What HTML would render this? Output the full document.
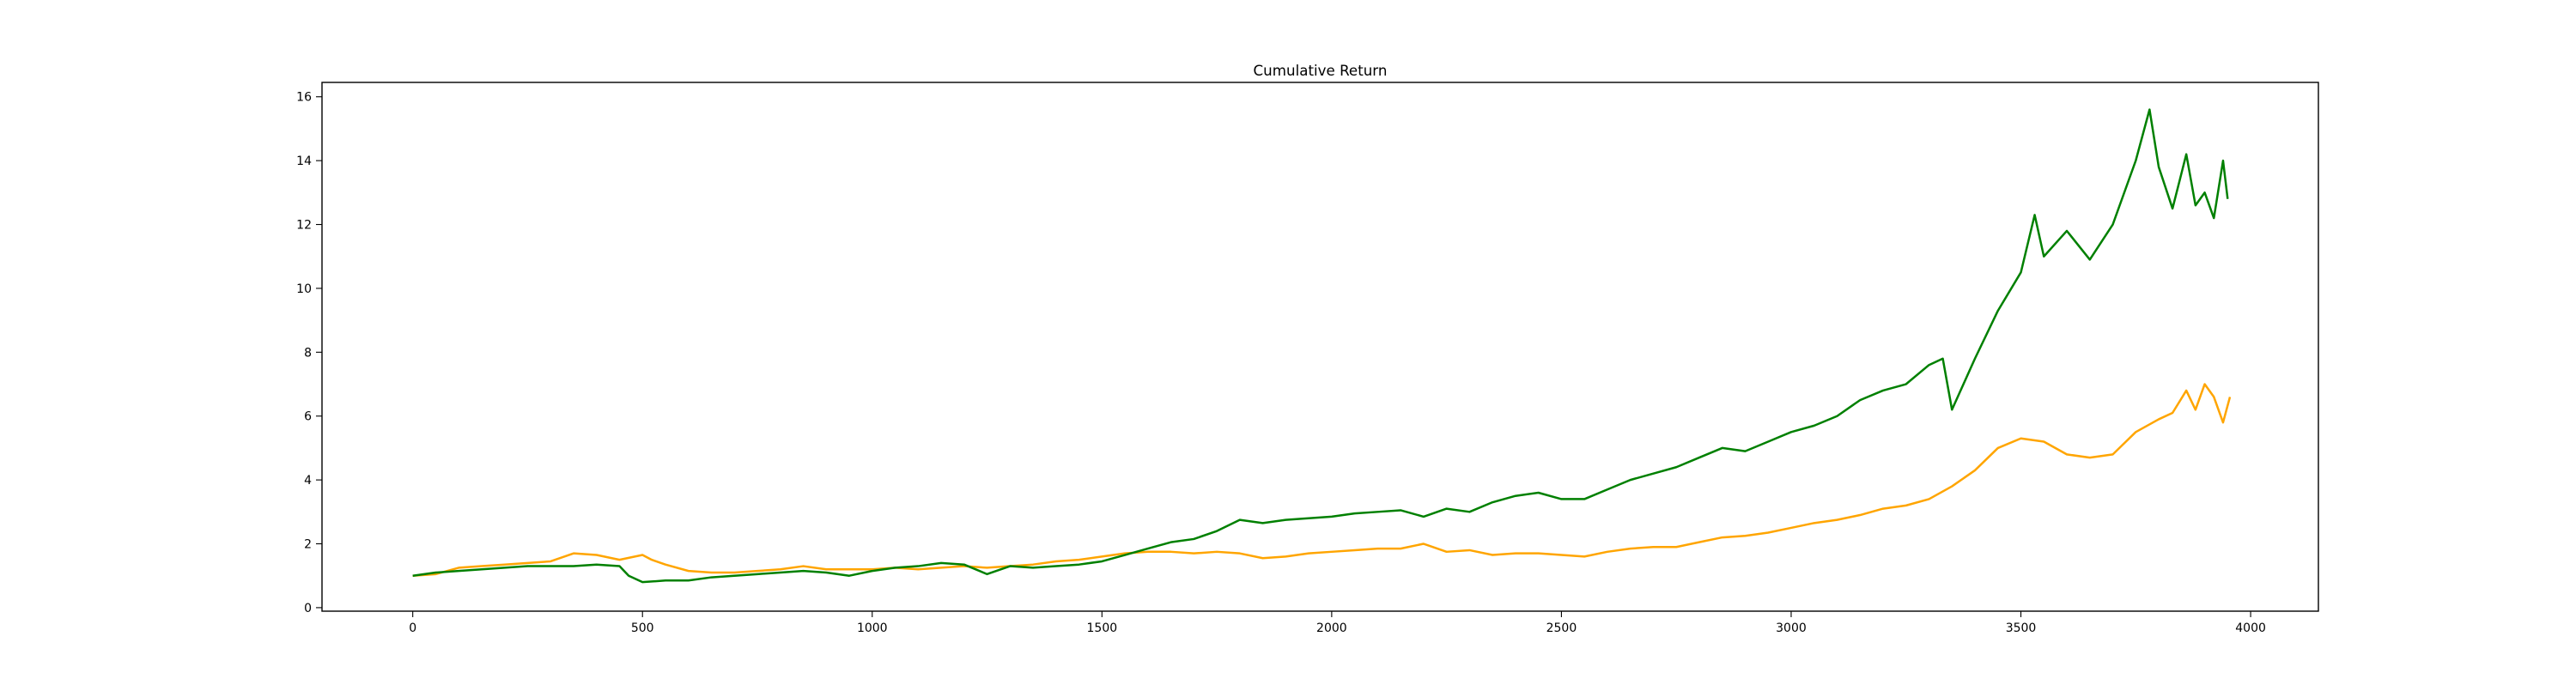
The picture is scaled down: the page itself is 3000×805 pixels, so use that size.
<!DOCTYPE html>
<html><head><meta charset="utf-8"><style>
html,body{margin:0;padding:0;background:#fff;}
svg text{font-family:"DejaVu Sans","Liberation Sans",sans-serif;font-size:14px;fill:#000;}
</style></head><body>
<svg id="chart" width="3000" height="800" xmlns="http://www.w3.org/2000/svg">
<rect width="3000" height="800" fill="#fff"/>
<text x="1537.5" y="88" text-anchor="middle" style="font-size:16.7px">Cumulative Return</text>
<g id="plot"></g>
<rect x="375" y="96" width="2325" height="616" fill="none" stroke="#000" stroke-width="1.4"/>
</svg>
<script>
const greenX=[0,50,100,150,200,250,300,350,400,450,470,500,550,600,650,700,750,800,850,900,950,1000,1050,1100,1150,1200,1250,1300,1350,1400,1450,1500,1550,1600,1650,1700,1750,1800,1850,1900,1950,2000,2050,2100,2150,2200,2250,2300,2350,2400,2450,2500,2550,2600,2650,2700,2750,2800,2850,2900,2950,3000,3050,3100,3150,3200,3250,3300,3330,3350,3400,3450,3500,3530,3550,3600,3650,3700,3750,3780,3800,3830,3860,3880,3900,3920,3940,3950];
const greenY=[1.0,1.1,1.15,1.2,1.25,1.3,1.3,1.3,1.35,1.3,1.0,0.8,0.85,0.85,0.95,1.0,1.05,1.1,1.15,1.1,1.0,1.15,1.25,1.3,1.4,1.35,1.05,1.3,1.25,1.3,1.35,1.45,1.65,1.85,2.05,2.15,2.4,2.75,2.65,2.75,2.8,2.85,2.95,3.0,3.05,2.85,3.1,3.0,3.3,3.5,3.6,3.4,3.4,3.7,4.0,4.2,4.4,4.7,5.0,4.9,5.2,5.5,5.7,6.0,6.5,6.8,7.0,7.6,7.8,6.2,7.8,9.3,10.5,12.3,11.0,11.8,10.9,12.0,14.0,15.6,13.8,12.5,14.2,12.6,13.0,12.2,14.0,12.8];
const orangeX=[0,50,100,150,200,250,300,350,400,450,500,520,550,600,650,700,750,800,850,900,950,1000,1050,1100,1150,1200,1250,1300,1350,1400,1450,1500,1550,1600,1650,1700,1750,1800,1850,1900,1950,2000,2050,2100,2150,2200,2250,2300,2350,2400,2450,2500,2550,2600,2650,2700,2750,2800,2850,2900,2950,3000,3050,3100,3150,3200,3250,3300,3350,3400,3450,3500,3550,3600,3650,3700,3750,3800,3830,3860,3880,3900,3920,3940,3955];
const orangeY=[1.0,1.05,1.25,1.3,1.35,1.4,1.45,1.7,1.65,1.5,1.65,1.5,1.35,1.15,1.1,1.1,1.15,1.2,1.3,1.2,1.2,1.2,1.25,1.2,1.25,1.3,1.25,1.3,1.35,1.45,1.5,1.6,1.7,1.75,1.75,1.7,1.75,1.7,1.55,1.6,1.7,1.75,1.8,1.85,1.85,2.0,1.75,1.8,1.65,1.7,1.7,1.65,1.6,1.75,1.85,1.9,1.9,2.05,2.2,2.25,2.35,2.5,2.65,2.75,2.9,3.1,3.2,3.4,3.8,4.3,5.0,5.3,5.2,4.8,4.7,4.8,5.5,5.9,6.1,6.8,6.2,7.0,6.6,5.8,6.6];
const xTicks=[0,500,1000,1500,2000,2500,3000,3500,4000];
const yTicks=[0,2,4,6,8,10,12,14,16];
const X0=375,X1=2700,Y0=712,Y1=96,xmin=-197.5,xmax=4147.5,ymin=-0.11,ymax=16.45;
const sx=v=>X0+(v-xmin)/(xmax-xmin)*(X1-X0);
const sy=v=>Y0-(v-ymin)/(ymax-ymin)*(Y0-Y1);
const NS='http://www.w3.org/2000/svg';
const g=document.getElementById('plot');
function mk(t,a){const e=document.createElementNS(NS,t);for(const k in a)e.setAttribute(k,a[k]);g.appendChild(e);return e;}
xTicks.forEach(v=>{
  const l=mk('line',{x1:sx(v),x2:sx(v),y1:712,y2:719,stroke:'#000','stroke-width':1.1});
  
  
  const t=mk('text',{x:sx(v),y:736,'text-anchor':'middle'});t.textContent=v;
  
  
});
yTicks.forEach(v=>{
  const l=mk('line',{x1:368,x2:375,y1:sy(v),y2:sy(v),stroke:'#000','stroke-width':1.1});
  
  
  const t=mk('text',{x:363,y:sy(v)+5,'text-anchor':'end'});t.textContent=v;
  
  
});
function line(xs,ys,color,name){
  const p=mk('polyline',{points:xs.map((x,i)=>sx(x)+','+sy(ys[i])).join(' '),fill:'none',stroke:color,'stroke-width':2.5,'stroke-linejoin':'round'});
  
  
}
line(orangeX,orangeY,'#ffa500','benchmark-line');
line(greenX,greenY,'#008000','strategy-line');
</script>
</body></html>
